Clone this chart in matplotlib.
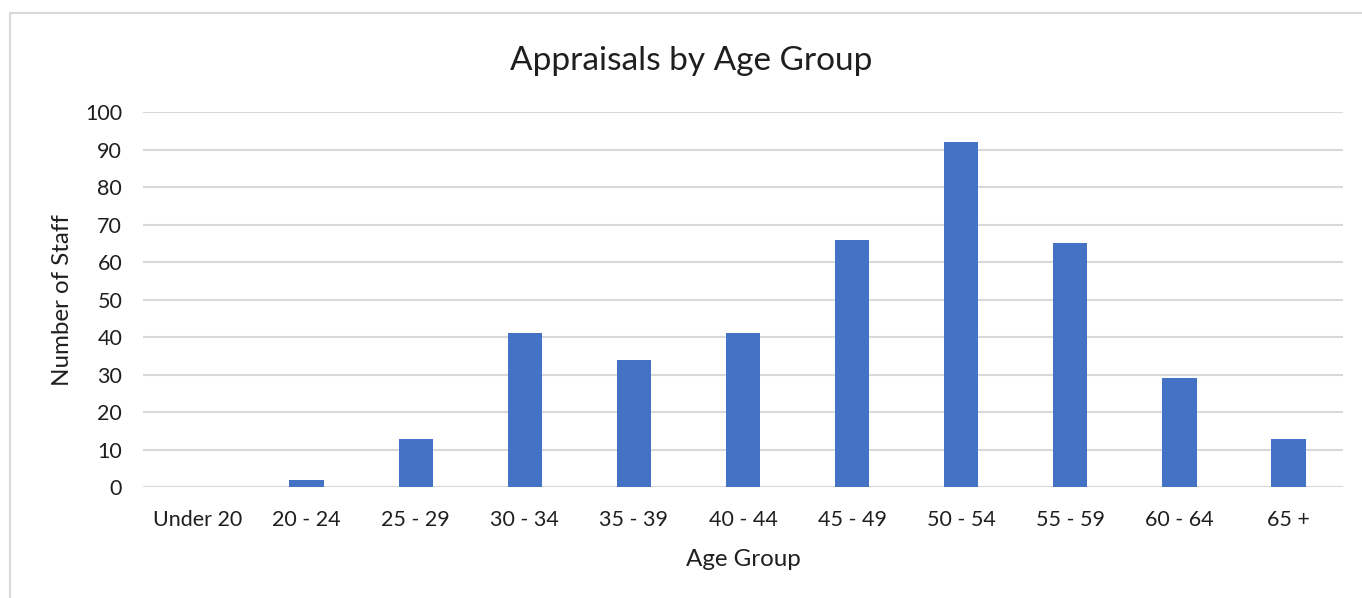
import matplotlib
matplotlib.use('Agg')
import matplotlib.pyplot as plt
from matplotlib.patches import Rectangle

# data
age_groups = ['Under 20', '20 - 24', '25 - 29', '30 - 34', '35 - 39', '40 - 44',
              '45 - 49', '50 - 54', '55 - 59', '60 - 64', '65 +']
staff = [0, 2, 13, 41, 34, 41, 66, 92, 65, 29, 13]
y_ticks = [0, 10, 20, 30, 40, 50, 60, 70, 80, 90, 100]

plt.rcParams['font.family'] = ['Lato', 'DejaVu Sans']
text_col = '#1f1f1f'

fig = plt.figure(figsize=(13.62, 5.98), dpi=100)

# light grey chart border (cut off at right and bottom like the screenshot)
fig.patches.append(Rectangle((10 / 1362, -0.05), 1.1, (598 - 13) / 598 + 0.05,
                             transform=fig.transFigure, fill=False,
                             edgecolor='#d9d9d9', linewidth=1.5))

ax = fig.add_axes([143 / 1362, (598 - 487.3) / 598, 1200 / 1362, 375.3 / 598])

x = range(len(age_groups))
ax.bar(x, staff, width=0.315, color='#4472C4', zorder=3)

ax.set_xlim(-0.5, len(age_groups) - 0.5)
ax.set_ylim(0, 100)
ax.set_yticks(y_ticks)
ax.set_xticks(list(x))
ax.set_xticklabels(age_groups)

ax.grid(axis='y', color='#d9d9d9', linewidth=1.5, zorder=0)
for s in ax.spines.values():
    s.set_visible(False)
ax.tick_params(axis='both', length=0, labelsize=15.5, colors=text_col)
ax.tick_params(axis='y', pad=15)
ax.tick_params(axis='x', pad=16.5)

ax.set_xlabel('Age Group', fontsize=17.4, color=text_col, labelpad=13.5)
ax.set_ylabel('Number of Staff', fontsize=17.4, color=text_col, labelpad=9)
fig.text(691 / 1362, 1 - 61 / 598, 'Appraisals by Age Group', ha='center', va='center',
         fontsize=24, color=text_col)

fig.savefig('out.png', dpi=100)
